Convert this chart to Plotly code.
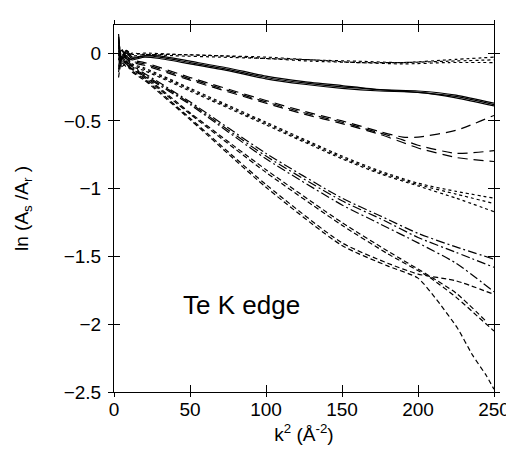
import plotly.graph_objects as go

# ---------------- data ----------------
# dotted, near zero
dotA_x = [3, 5, 8, 12, 20, 40, 70, 100, 130, 160, 190, 220, 250]
dotA_1 = [0.10, -0.02, 0.02, -0.01, 0.0, -0.01, -0.02, -0.03, -0.05, -0.06, -0.07, -0.05, -0.03]
dotA_2 = [0.05, -0.04, 0.01, -0.02, -0.01, -0.02, -0.03, -0.04, -0.05, -0.07, -0.07, -0.06, -0.05]
dotA_3 = [-0.05, 0.03, -0.02, 0.0, -0.01, -0.01, -0.02, -0.04, -0.06, -0.07, -0.08, -0.07, -0.07]

# solid
sol_x = [3, 5, 8, 12, 20, 30, 50, 75, 100, 125, 150, 175, 200, 225, 250]
sol_1 = [0.12, -0.03, 0.02, -0.03, -0.02, -0.02, -0.06, -0.11, -0.17, -0.21, -0.24, -0.27, -0.28, -0.31, -0.37]
sol_2 = [0.06, -0.05, 0.0, -0.04, -0.02, -0.03, -0.07, -0.12, -0.18, -0.22, -0.25, -0.27, -0.29, -0.32, -0.38]
sol_3 = [-0.02, 0.02, -0.03, -0.05, -0.03, -0.04, -0.08, -0.13, -0.19, -0.23, -0.26, -0.28, -0.29, -0.33, -0.39]

# long dash
ld_x = [3, 5, 8, 12, 20, 50, 100, 125, 150, 175, 190, 200, 225, 250]
ld_1 = [0.14, -0.04, 0.01, -0.05, -0.07, -0.18, -0.35, -0.43, -0.50, -0.58, -0.62, -0.62, -0.57, -0.46]
ld_2 = [0.04, -0.06, -0.02, -0.06, -0.08, -0.19, -0.36, -0.44, -0.51, -0.59, -0.64, -0.68, -0.74, -0.72]
ld_3 = [-0.10, 0.0, -0.04, -0.07, -0.09, -0.20, -0.37, -0.45, -0.52, -0.60, -0.66, -0.70, -0.77, -0.80]

# dotted, middle
dotD_x = [3, 5, 8, 12, 20, 50, 100, 150, 175, 200, 225, 250]
dotD_1 = [0.10, -0.05, -0.02, -0.08, -0.11, -0.26, -0.51, -0.76, -0.87, -0.96, -1.02, -1.07]
dotD_2 = [0.0, -0.07, -0.04, -0.09, -0.12, -0.27, -0.52, -0.77, -0.88, -0.97, -1.04, -1.11]
dotD_3 = [-0.12, -0.03, -0.06, -0.10, -0.13, -0.28, -0.53, -0.78, -0.89, -0.98, -1.07, -1.17]

# dash-dot
dd_x = [3, 5, 8, 12, 20, 50, 100, 150, 175, 200, 225, 250]
dd_1 = [0.12, -0.06, -0.04, -0.10, -0.15, -0.36, -0.74, -1.07, -1.20, -1.33, -1.43, -1.52]
dd_2 = [0.02, -0.08, -0.06, -0.11, -0.16, -0.37, -0.76, -1.09, -1.22, -1.36, -1.47, -1.58]
dd_3 = [-0.14, -0.04, -0.08, -0.12, -0.17, -0.38, -0.78, -1.12, -1.26, -1.40, -1.55, -1.76]

# short dash
sd1_x = [3, 5, 8, 12, 20, 50, 100, 150, 180, 200, 225, 250]
sd_1 = [0.08, -0.08, -0.06, -0.13, -0.19, -0.48, -0.97, -1.40, -1.55, -1.63, -1.68, -1.78]
sd2_x = [3, 5, 8, 12, 20, 50, 100, 150, 180, 200, 213, 226, 236, 245, 250]
sd_2 = [-0.04, -0.10, -0.08, -0.14, -0.20, -0.49, -0.99, -1.42, -1.57, -1.66, -1.83, -2.03, -2.23, -2.38, -2.48]
sd3_x = [3, 5, 8, 12, 20, 50, 100, 150, 180, 207, 225, 240, 250]
sd_3 = [-0.18, -0.07, -0.10, -0.12, -0.18, -0.45, -0.88, -1.27, -1.48, -1.65, -1.80, -1.95, -2.05]
sd4_x = [3, 5, 8, 12, 20, 50, 100, 150, 180, 207, 225, 245]
sd_4 = [0.0, -0.09, -0.07, -0.12, -0.17, -0.44, -0.86, -1.25, -1.46, -1.64, -1.77, -1.98]

x_ticks = [0, 50, 100, 150, 200, 250]
y_ticks = [0, -0.5, -1, -1.5, -2, -2.5]
y_tick_labels = ["0", "\u22120.5", "\u22121", "\u22121.5", "\u22122", "\u22122.5"]

LD = "10px,6px"
DD = "9px,3px,2px,3px"
SD = "5px,3px"
series = [
    (dotA_x, dotA_1, "dot"), (dotA_x, dotA_2, "dot"), (dotA_x, dotA_3, "dot"),
    (sol_x, sol_1, "solid"), (sol_x, sol_2, "solid"), (sol_x, sol_3, "solid"),
    (ld_x, ld_1, LD), (ld_x, ld_2, LD), (ld_x, ld_3, LD),
    (dotD_x, dotD_1, "dot"), (dotD_x, dotD_2, "dot"), (dotD_x, dotD_3, "dot"),
    (dd_x, dd_1, DD), (dd_x, dd_2, DD), (dd_x, dd_3, DD),
    (sd1_x, sd_1, SD), (sd2_x, sd_2, SD), (sd3_x, sd_3, SD), (sd4_x, sd_4, SD),
]

fig = go.Figure()
for xs, ys, dash in series:
    fig.add_trace(go.Scatter(x=xs, y=ys, mode="lines",
                             line=dict(color="black", width=1.2, dash=dash, shape="spline", smoothing=0.6),
                             showlegend=False, hoverinfo="skip"))

# invisible trace to carry the overlay axes (outer tick halves)
fig.add_trace(go.Scatter(x=[0], y=[0], xaxis="x2", yaxis="y2", mode="markers",
                         marker=dict(opacity=0), showlegend=False, hoverinfo="skip"))

FAM = "Liberation Sans, Arial, Helvetica, sans-serif"
font = dict(family=FAM, size=19, color="black")
XR = [0, 250]
YR = [-2.5, 0.207]

fig.update_layout(
    width=514, height=454,
    margin=dict(l=102, r=19, t=17, b=70),
    paper_bgcolor="white", plot_bgcolor="white",
    font=font,
    xaxis=dict(range=XR, tickvals=x_ticks, ticks="inside", ticklen=7, tickcolor="black",
               showline=True, linecolor="black", linewidth=1, mirror="ticks",
               showgrid=False, zeroline=False, tickfont=font,
               title=dict(text="k<sup>2</sup> (Å<sup>-2</sup>)", font=font, standoff=8)),
    yaxis=dict(range=YR, tickvals=y_ticks, ticktext=y_tick_labels,
               ticks="inside", ticklen=6, tickcolor="black", ticklabelstandoff=8,
               showline=True, linecolor="black", linewidth=1, mirror="ticks",
               showgrid=False, zeroline=False, tickfont=font,
               title=dict(text="ln (A<sub>s</sub> /A<sub>r</sub> )", font=font, standoff=30)),
    xaxis2=dict(range=XR, overlaying="x", anchor="y2", tickvals=x_ticks, ticks="outside", ticklen=4,
                tickcolor="black", showticklabels=False, showline=False, mirror="ticks",
                showgrid=False, zeroline=False),
    yaxis2=dict(range=YR, overlaying="y", anchor="x2", tickvals=y_ticks, ticks="outside", ticklen=5,
                tickcolor="black", showticklabels=False, showline=False, mirror="ticks",
                showgrid=False, zeroline=False),
    annotations=[dict(x=84, y=-1.86, xref="x", yref="y", text="Te K edge", showarrow=False,
                      font=dict(family=FAM, size=26, color="black"))],
)

fig.write_html("out.html")
